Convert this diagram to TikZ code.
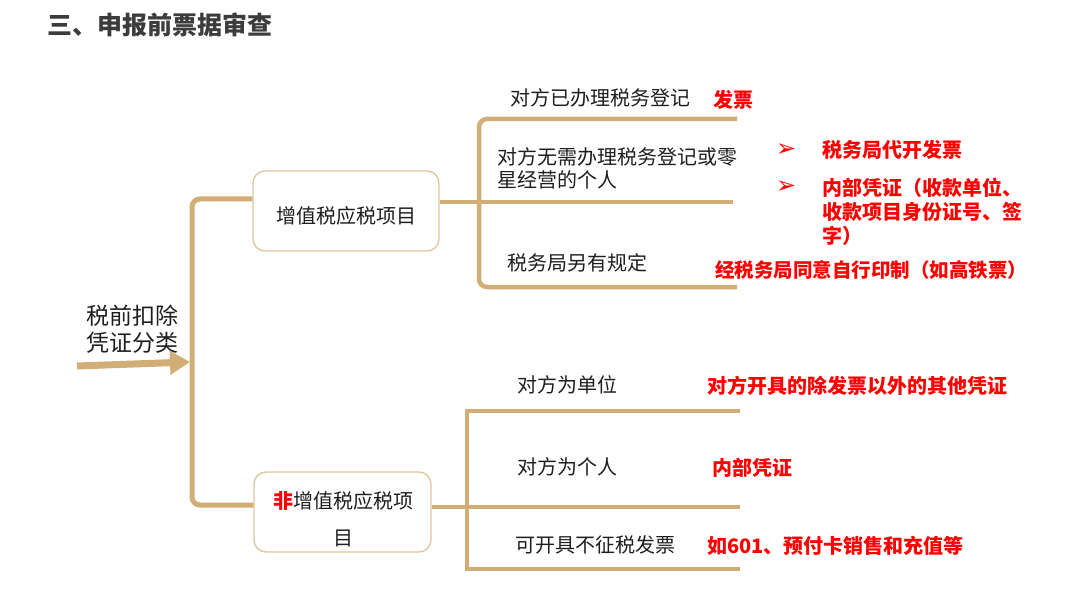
\documentclass[tikz,border=0pt]{standalone}
\usepackage{fontspec}
\setmainfont{Noto Sans CJK SC}
\newfontfamily\dvfont{DejaVu Sans}
\usetikzlibrary{arrows.meta}
\definecolor{tan}{RGB}{208,174,118}
\definecolor{boxline}{RGB}{222,198,155}
\definecolor{ttl}{RGB}{60,60,60}
\definecolor{txt}{RGB}{30,30,30}
\definecolor{hl}{RGB}{255,0,0}
\tikzset{
  lbl/.style={anchor=west, inner sep=0pt, text=txt, font=\fontsize{20}{23}\selectfont, align=left},
  redtxt/.style={anchor=west, inner sep=0pt, text=hl, font=\bfseries\fontsize{20}{24}\selectfont, align=left},
  bullet/.style={anchor=west, inner sep=0pt, text=hl, font=\dvfont\fontsize{24}{26}\selectfont},
  mainbranch/.style={draw=tan, line width=5pt, rounded corners=8pt},
  subbranch/.style={draw=tan, line width=4.5pt, rounded corners=8pt},
  leafbranch/.style={draw=tan, line width=4.5pt},
  catbox/.style={draw=boxline, line width=1.3pt, rounded corners=12pt, fill=white, inner sep=0pt, minimum height=80pt}
}
\begin{document}
\begin{tikzpicture}[x=1pt, y=-1pt]
\useasboundingbox[fill=white] (0,0) rectangle (1080,591);

% title
\node[anchor=west, inner sep=0pt, text=ttl, font=\bfseries\fontsize{25}{30}\selectfont] (title) at (47,25) {三、申报前票据审查};

% left label and arrow
\node[anchor=west, inner sep=0pt, text=txt, font=\fontsize{23}{27}\selectfont, align=left] (cls) at (86,329.5) {税前扣除\\凭证分类};
\coordinate (arrs) at (77,366);
\coordinate (arre) at (190,362);
\draw[tan, line width=7pt, -{Triangle[length=20pt,width=23pt]}] (arrs) -- (arre);

% category boxes
\node[catbox, minimum width=186pt] (vat) at (346,211) {};
\node[lbl, anchor=center] (vatt) at (346,216) {增值税应税项目};
\node[catbox, minimum width=177pt] (nonvat) at (342.5,512) {};
\node[lbl, anchor=center, align=center, font=\fontsize{20}{37}\selectfont] (nonvatt) at (343,519.5) {{\color{hl}\bfseries 非}增值税应税项\\目};

% main bracket
\coordinate (spine) at (192,350);
\draw[mainbranch] ([yshift=12pt]vat.west) -| (spine) |- ([yshift=7pt]nonvat.west);

% top-right bracket
\coordinate (rspine) at (479,202);
\coordinate (t1) at (737,119);
\coordinate (t2) at (733,202);
\coordinate (t3) at (737,287);
\draw[subbranch] (t1) -| (rspine) |- (t3);
\draw[subbranch] ([yshift=9pt]vat.east) -- (t2);

% bottom-right bracket
\coordinate (bspine) at (467,507);
\coordinate (b1) at (740,411);
\coordinate (b2) at (740,507);
\coordinate (b3) at (740,569);
\draw[leafbranch] (b1) -| (bspine) |- (b3);
\draw[leafbranch] ([yshift=5pt]nonvat.east) -- (b2);

% top-right texts
\node[lbl] (q1) at (510,98) {对方已办理税务登记};
\node[lbl] (q2) at (497,168.5) {对方无需办理税务登记或零\\星经营的个人};
\node[lbl] (q3) at (507,263) {税务局另有规定};
\node[redtxt] (a1) at (713,100) {发票};
\node[bullet] (bu1) at (776,150) {➢};
\node[redtxt] (a2) at (822,150) {税务局代开发票};
\node[bullet] (bu2) at (776,187) {➢};
\node[redtxt] (a3) at (822,212) {内部凭证（收款单位、\\收款项目身份证号、签\\字）};
\node[redtxt, font=\bfseries\fontsize{19.5}{24}\selectfont] (a4) at (715,270) {经税务局同意自行印制（如高铁票）};

% bottom-right texts
\node[lbl] (p1) at (517,385) {对方为单位};
\node[lbl] (p2) at (517,467) {对方为个人};
\node[lbl] (p3) at (515,545) {可开具不征税发票};
\node[redtxt] (r1) at (707,386) {对方开具的除发票以外的其他凭证};
\node[redtxt] (r2) at (712,468) {内部凭证};
\node[redtxt] (r3) at (707,546) {如601、预付卡销售和充值等};
\end{tikzpicture}
\end{document}
